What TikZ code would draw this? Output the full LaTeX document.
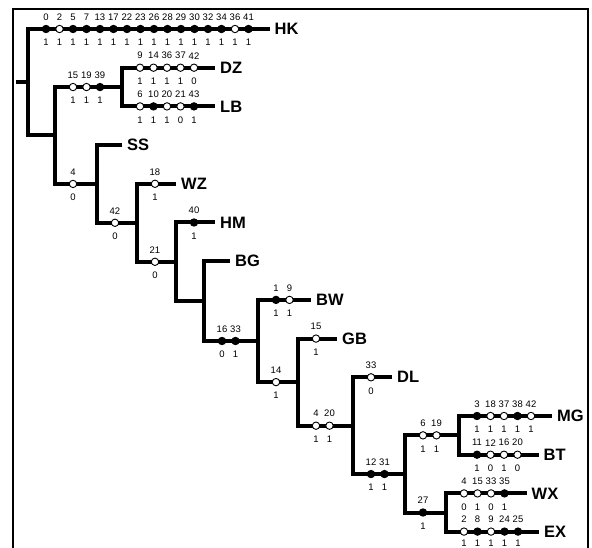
\documentclass[tikz,border=0pt]{standalone}
\usepackage{fontspec}
\setmainfont{Liberation Sans}
\tikzset{
  br/.style={line width=4pt, line join=miter, line cap=butt},
  dotF/.style={circle, draw=black, fill=black, line width=0.9pt, minimum size=7.4pt, inner sep=0pt},
  dotO/.style={circle, draw=black, fill=white, line width=0.9pt, minimum size=7.4pt, inner sep=0pt},
  num/.style={font=\fontsize{9.5}{9.5}\selectfont, inner sep=0pt},
  leaf/.style={font=\fontsize{16.5}{16.5}\selectfont\bfseries, anchor=west, inner sep=0pt, text depth=0pt, xshift=5pt},
}
\newcommand\edgemarksx[5]{%
  \foreach \nm/\st/\vl [count=\k from 0] in {#4} {
    \node[\st] (#1-\k) at ({#2+18+13.5*\k},#3) {};
    \node[num, yshift=12pt] (#1-t\k) at (#1-\k.center) {\nm};
    \node[num, yshift=-#5pt] (#1-b\k) at (#1-\k.center) {\vl};
  }%
}
\newcommand\edgemarks[4]{\edgemarksx{#1}{#2}{#3}{#4}{13.5}}
\begin{document}
\begin{tikzpicture}[x=1pt,y=-1pt]
\useasboundingbox (0,0) rectangle (592,548);
\fill[white] (0,0) rectangle (592,548);
\draw[line width=2pt] (12.7,548) -- (12.7,9.3) -- (588.3,9.3) -- (588.3,548);

% internal nodes
\coordinate (stub) at (16,82.25);
\coordinate (Root) at (28,82.25);
\coordinate (A) at (55,135.5);
\coordinate (B) at (122,87.05);
\coordinate (C) at (97,183.95);
\coordinate (D) at (137,222.8);
\coordinate (E) at (176,261.8);
\coordinate (F) at (204,301.1);
\coordinate (G) at (258,341.0);
\coordinate (H) at (298,382.1);
\coordinate (I) at (353,425.7);
\coordinate (J) at (405,474.05);
\coordinate (K) at (459,435.35);
\coordinate (L) at (446,512.5);

% leaf ends
\coordinate (HKe) at (269.5,29);
\coordinate (DZe) at (215,67.7);
\coordinate (LBe) at (215,106.4);
\coordinate (SSe) at (122,145.1);
\coordinate (WZe) at (176,183.8);
\coordinate (HMe) at (215,222.5);
\coordinate (BGe) at (230,261.2);
\coordinate (BWe) at (311,299.9);
\coordinate (GBe) at (337,338.6);
\coordinate (DLe) at (392,377.3);
\coordinate (MGe) at (552,416);
\coordinate (BTe) at (538.5,454.7);
\coordinate (WXe) at (526.5,493.4);
\coordinate (EXe) at (539,531.6);

% branches
\draw[br] (stub) -- (Root);
\draw[br] (HKe) -- (Root |- HKe) -- (Root |- A) -- (A);
\draw[br] (B) -- (A |- B) -- (A |- C) -- (C);
\draw[br] (DZe) -- (B |- DZe) -- (B |- LBe) -- (LBe);
\draw[br] (SSe) -- (C |- SSe) -- (C |- D) -- (D);
\draw[br] (WZe) -- (D |- WZe) -- (D |- E) -- (E);
\draw[br] (HMe) -- (E |- HMe) -- (E |- F) -- (F);
\draw[br] (BGe) -- (F |- BGe) -- (F |- G) -- (G);
\draw[br] (BWe) -- (G |- BWe) -- (G |- H) -- (H);
\draw[br] (GBe) -- (H |- GBe) -- (H |- I) -- (I);
\draw[br] (DLe) -- (I |- DLe) -- (I |- J) -- (J);
\draw[br] (K) -- (J |- K) -- (J |- L) -- (L);
\draw[br] (MGe) -- (K |- MGe) -- (K |- BTe) -- (BTe);
\draw[br] (WXe) -- (L |- WXe) -- (L |- EXe) -- (EXe);

% leaf labels
\node[leaf] (HK) at (HKe) {HK};
\node[leaf] (DZ) at (DZe) {DZ};
\node[leaf] (LB) at (LBe) {LB};
\node[leaf] (SS) at (SSe) {SS};
\node[leaf] (WZ) at (WZe) {WZ};
\node[leaf] (HM) at (HMe) {HM};
\node[leaf] (BG) at (BGe) {BG};
\node[leaf] (BW) at (BWe) {BW};
\node[leaf] (GB) at (GBe) {GB};
\node[leaf] (DL) at (DLe) {DL};
\node[leaf] (MG) at (MGe) {MG};
\node[leaf] (BT) at (BTe) {BT};
\node[leaf] (WX) at (WXe) {WX};
\node[leaf] (EX) at (EXe) {EX};

% character marks
\edgemarks{hk}{28}{29}{0/dotF/1, 2/dotO/1, 5/dotF/1, 7/dotF/1, 13/dotF/1, 17/dotF/1, 22/dotF/1, 23/dotF/1, 26/dotF/1, 28/dotF/1, 29/dotF/1, 30/dotF/1, 32/dotF/1, 34/dotF/1, 36/dotO/1, 41/dotF/1}
\edgemarks{dz}{122}{67.7}{9/dotO/1, 14/dotO/1, 36/dotO/1, 37/dotO/1, 42/dotO/0}
\edgemarks{lb}{122}{106.4}{6/dotO/1, 10/dotF/1, 20/dotO/1, 21/dotO/0, 43/dotF/1}
\edgemarks{b}{55}{87.05}{15/dotO/1, 19/dotO/1, 39/dotF/1}
\edgemarks{c}{55}{183.95}{4/dotO/0}
\edgemarks{d}{97}{222.8}{42/dotO/0}
\edgemarks{wz}{137}{183.8}{18/dotO/1}
\edgemarks{e}{137}{261.8}{21/dotO/0}
\edgemarks{hm}{176}{222.5}{40/dotF/1}
\edgemarks{g}{204}{341.0}{16/dotF/0, 33/dotF/1}
\edgemarks{bw}{258}{299.9}{1/dotF/1, 9/dotO/1}
\edgemarks{h}{258}{382.1}{14/dotO/1}
\edgemarks{gb}{298}{338.6}{15/dotO/1}
\edgemarks{i}{298}{425.7}{4/dotO/1, 20/dotO/1}
\edgemarks{dl}{353}{377.3}{33/dotO/0}
\edgemarks{j}{353}{474.05}{12/dotF/1, 31/dotF/1}
\edgemarks{k}{405}{435.35}{6/dotO/1, 19/dotO/1}
\edgemarks{mg}{459}{416}{3/dotF/1, 18/dotO/1, 37/dotO/1, 38/dotF/1, 42/dotO/1}
\edgemarks{bt}{459}{454.7}{11/dotF/1, 12/dotO/0, 16/dotO/1, 20/dotO/0}
\edgemarks{l}{405}{512.5}{27/dotF/1}
\edgemarks{wx}{446}{493.4}{4/dotO/0, 15/dotO/1, 33/dotO/0, 35/dotF/1}
\edgemarksx{ex}{446}{531.6}{2/dotO/1, 8/dotF/1, 9/dotO/1, 24/dotF/1, 25/dotF/1}{12}
\end{tikzpicture}
\end{document}
